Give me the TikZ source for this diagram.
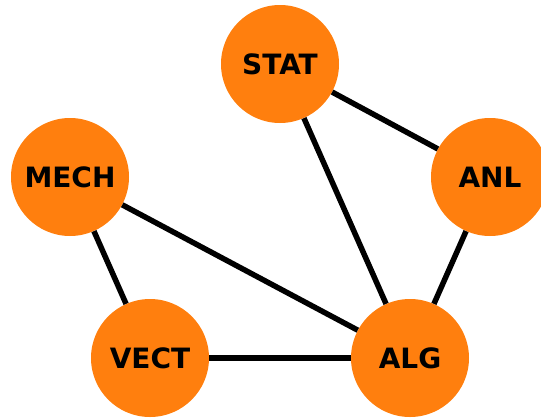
\documentclass[tikz,border=0pt]{standalone}
\usepackage{fontspec}
\setmainfont{DejaVu Sans}
\definecolor{nodeorange}{HTML}{FF7F0E}

\begin{document}
\begin{tikzpicture}[x=1pt,y=-1pt,
    topic/.style={circle,fill=nodeorange,minimum size=118pt,inner sep=0pt,
      font=\fontsize{28}{28}\selectfont\bfseries},
    link/.style={line width=5.5pt,black}]
         \useasboundingbox (0,0) rectangle (541,418) ;
         % the topics
         \node[topic] (stat) at (280,64) {STAT} ;
         \node[topic] (anl) at (490,177) {ANL} ;
         \node[topic] (mech) at (70,177) {MECH} ;
         \node[topic] (vect) at (150,358) {VECT} ;
         \node[topic] (alg) at (410,358) {ALG} ;
         % the links
         \draw[link] (stat) -- (anl) ;
         \draw[link] (stat) -- (alg) ;
         \draw[link] (anl) -- (alg) ;
         \draw[link] (mech) -- (vect) ;
         \draw[link] (mech) -- (alg) ;
         \draw[link] (vect) -- (alg) ;
       \end{tikzpicture}
\end{document}
